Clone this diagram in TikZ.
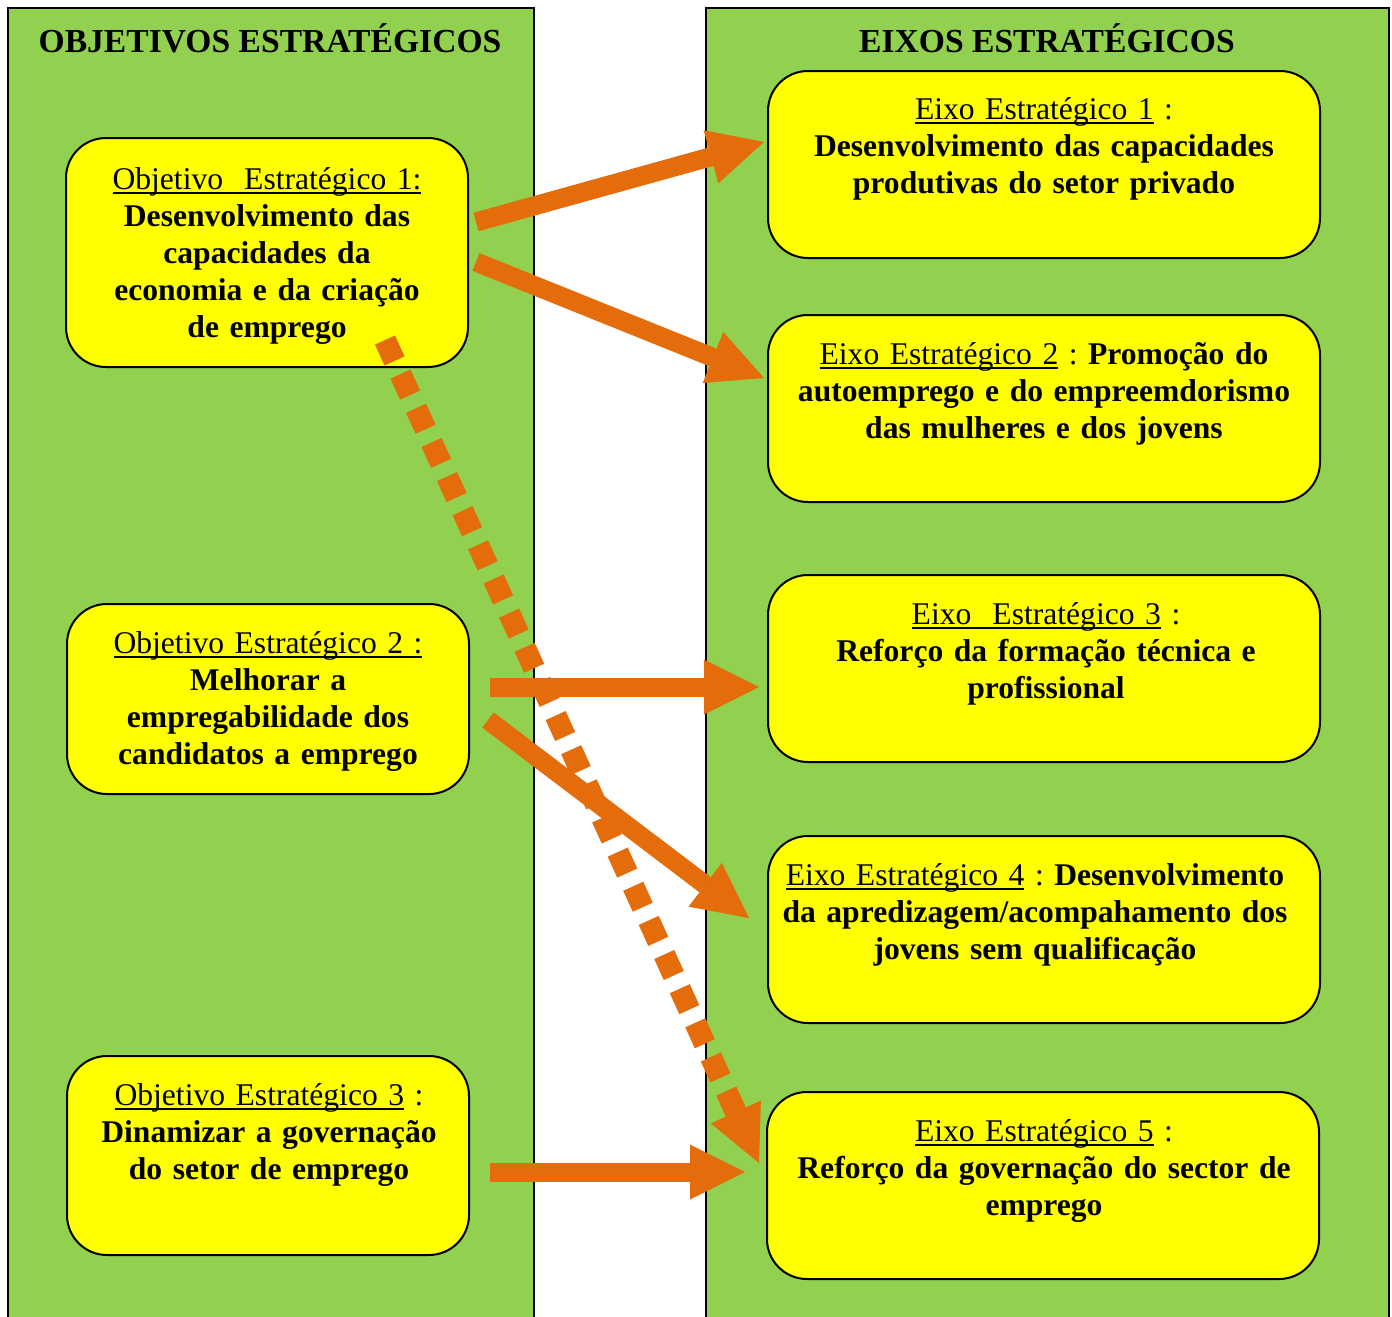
\documentclass[tikz,border=0pt]{standalone}
\usepackage{fontspec}
\setmainfont{Liberation Serif}
\usetikzlibrary{arrows.meta,calc}
\definecolor{panelgreen}{HTML}{92D050}
\definecolor{boxyellow}{HTML}{FFFF00}
\definecolor{orng}{HTML}{E46C0A}
\frenchspacing
\newcommand\ulx[1]{\leavevmode\setbox0=\hbox{#1}\rlap{\rule[-2.5pt]{\wd0}{1pt}}\box0\relax}
\tikzset{
  panel/.style={fill=panelgreen, inner sep=0pt, anchor=north west},
  box/.style={rectangle, rounded corners=20pt, draw=black, line width=1pt, fill=boxyellow, inner sep=0pt},
  lbox/.style={box, minimum width=201pt},
  rbox/.style={box, minimum width=276pt, minimum height=93.5pt},
  txt/.style={anchor=base, align=center, text width=#1, inner sep=0pt, font=\fontsize{15.8}{18.5}\selectfont\frenchspacing},
  ttl/.style={anchor=base, inner sep=0pt, font=\fontsize{16.8}{19}\selectfont\bfseries},
  bigarrow/.style={draw=orng, line width=9.5pt, -{Triangle[length=27.5pt,width=27.5pt,line width=0pt]}},
  dotarrow/.style={draw=orng, line width=11pt, dash pattern=on 11.5pt off 7.25pt, -{Triangle[length=28pt,width=27.5pt,line width=0pt]}}
}
\begin{document}
\begin{tikzpicture}[x=0.5pt,y=-0.5pt]
\useasboundingbox (0,0) rectangle (1392,1317);
% panels
\node[panel, minimum width=262.5pt, minimum height=654.5pt] (lpanel) at (8,8) {};
\node[panel, minimum width=341pt, minimum height=654.5pt] (rpanel) at (706,8) {};
\draw[line width=1pt] (lpanel.south west) -- (lpanel.north west) -- (lpanel.north east) -- (lpanel.south east);
\draw[line width=1pt] (rpanel.south west) -- (rpanel.north west) -- (rpanel.north east) -- (rpanel.south east);
\node[ttl] (ltitle) at (270,52) {OBJETIVOS ESTRATÉGICOS};
\node[ttl] (rtitle) at (1047,52) {EIXOS ESTRATÉGICOS};
% left boxes
\node[lbox, minimum height=114.5pt] (o1) at (267,252.5) {};
\node[lbox, minimum height=95pt] (o2) at (268,699) {};
\node[lbox, minimum height=99.5pt] (o3) at (268,1155.5) {};
% right boxes
\node[rbox] (e1) at (1044,164.5) {};
\node[rbox] (e2) at (1044,408.5) {};
\node[rbox] (e3) at (1044,668.5) {};
\node[rbox] (e4) at (1044,929.5) {};
\node[rbox] (e5) at (1043,1185.5) {};
% texts
\node[txt=215pt] (o1t) at (267,189) {\ulx{Objetivo\ \ Estratégico 1:}\\\textbf{Desenvolvimento das}\\\textbf{capacidades da}\\\textbf{economia e da criação}\\\textbf{de emprego}};
\node[txt=215pt] (o2t) at (268,653) {\ulx{Objetivo Estratégico 2 :}\\\textbf{Melhorar a}\\\textbf{empregabilidade dos}\\\textbf{candidatos a emprego}};
\node[txt=215pt] (o3t) at (269,1105) {\ulx{Objetivo Estratégico 3} :\\\textbf{Dinamizar a governação}\\\textbf{do setor de emprego}};
\node[txt=290pt] (e1t) at (1044,119) {\ulx{Eixo Estratégico 1} :\\\textbf{Desenvolvimento das capacidades}\\\textbf{produtivas do setor privado}};
\node[txt=290pt] (e2t) at (1044,364) {\ulx{Eixo Estratégico 2} : \textbf{Promoção do}\\\textbf{autoemprego e do empreemdorismo}\\\textbf{das mulheres e dos jovens}};
\node[txt=290pt] (e3t) at (1046,624) {\ulx{Eixo\ \ Estratégico 3} :\\\textbf{Reforço da formação técnica e}\\\textbf{profissional}};
\node[txt=290pt] (e4t) at (1035,885) {\ulx{Eixo Estratégico 4} : \textbf{Desenvolvimento}\\\textbf{da apredizagem/acompahamento dos}\\\textbf{jovens sem qualificação}};
\node[txt=290pt] (e5t) at (1044,1141) {\ulx{Eixo Estratégico 5} :\\\textbf{Reforço da governação do sector de}\\\textbf{emprego}};
% connectors
\draw[dotarrow] ($(o1.south)+(118,-28)$) -- ($(e5.west)+(-7,-22.5)$);
\draw[bigarrow] ($(o1.east)+(7,-30.5)$) -- ($(e1.west)+(-3,-22.5)$);
\draw[bigarrow] ($(o1.east)+(7,9.5)$) -- ($(e2.west)+(-3,-30.5)$);
\draw[bigarrow] ($(o2.east)+(20,-12)$) -- ($(e3.west)+(-8,18.5)$);
\draw[bigarrow] ($(o2.east)+(18,21)$) -- ($(e4.west)+(-18,-11.5)$);
\draw[bigarrow] ($(o3.east)+(20,16.5)$) -- ($(e5.west)+(-21,-13.5)$);
\end{tikzpicture}
\end{document}
